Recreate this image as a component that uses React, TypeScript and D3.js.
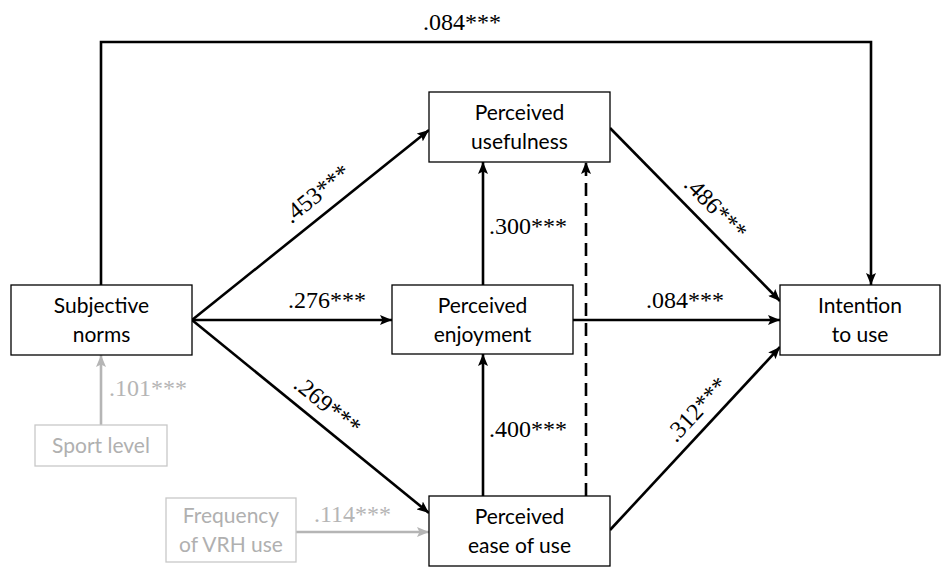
import React, { useEffect, useRef } from 'react';
import * as d3 from 'd3';

// node labels (two lines each)
const nodeIds = ['SN', 'PU', 'PE', 'PEOU', 'IU', 'SL', 'FV'];
const nodeLines = [
  ['Subjective', 'norms'],
  ['Perceived', 'usefulness'],
  ['Perceived', 'enjoyment'],
  ['Perceived', 'ease of use'],
  ['Intention', 'to use'],
  ['Sport level'],
  ['Frequency', 'of VRH use'],
];
const nodeGray = [false, false, false, false, false, true, true];

// path coefficients
const pathFrom = ['SN', 'SN', 'SN', 'SN', 'PE', 'PEOU', 'PEOU', 'PE', 'PU', 'PEOU', 'SL', 'FV'];
const pathTo = ['IU', 'PU', 'PE', 'PEOU', 'PU', 'PE', 'PU', 'IU', 'IU', 'IU', 'SN', 'PEOU'];
const pathCoef = ['.084***', '.453***', '.276***', '.269***', '.300***', '.400***', '', '.084***', '.486***', '.312***', '.101***', '.114***'];
const pathDashed = [false, false, false, false, false, false, true, false, false, false, false, false];

// layout (diagram geometry)
const boxes: Record<string, [number, number, number, number]> = {
  SN: [11, 285, 181, 70],
  PU: [429, 92, 181, 70],
  PE: [392, 285, 181, 69],
  PEOU: [429, 496, 181, 70],
  IU: [780, 285, 160, 70],
  SL: [35, 425, 132, 41],
  FV: [166, 498, 130, 64],
};
const routes: [number, number][][] = [
  [[101, 285], [101, 42], [871, 42], [871, 285]],
  [[192, 320], [429, 130]],
  [[192, 320], [392, 320]],
  [[192, 320], [429, 513]],
  [[483, 285], [483, 162]],
  [[483, 496], [483, 354]],
  [[586, 496], [586, 162]],
  [[573, 320], [780, 320]],
  [[610, 128], [780, 301]],
  [[610, 530], [780, 347]],
  [[101, 425], [101, 355]],
  [[296, 532], [429, 532]],
];
// label placement: [x or t, y or offset, anchor, rotated]
const labelPos: [number, number, string, boolean][] = [
  [462, 30, 'middle', false],
  [0.58, 21, 'middle', true],
  [327, 308, 'middle', false],
  [0.52, 20, 'middle', true],
  [489, 234, 'start', false],
  [489, 437, 'start', false],
  [0, 0, 'middle', false],
  [685, 308, 'middle', false],
  [0.54, 20, 'middle', true],
  [0.59, 19, 'middle', true],
  [109, 396, 'start', false],
  [314, 522, 'start', false],
];

const BLACK = '#000';
const GRAY = '#b5b5b5';

export default function App() {
  const ref = useRef<SVGSVGElement>(null);

  useEffect(() => {
    const svg = d3.select(ref.current);
    svg.selectAll('*').remove();

    const defs = svg.append('defs');
    [['arrow-black', BLACK], ['arrow-gray', GRAY]].forEach(([id, c]) => {
      defs
        .append('marker')
        .attr('id', id)
        .attr('viewBox', '0 0 12 10')
        .attr('refX', 12)
        .attr('refY', 5)
        .attr('markerWidth', 12)
        .attr('markerHeight', 10)
        .attr('markerUnits', 'userSpaceOnUse')
        .attr('orient', 'auto')
        .append('path')
        .attr('d', 'M0,0 L12,5 L0,10 L2.5,5 Z')
        .attr('fill', c);
    });

    const line = d3.line<[number, number]>();

    pathFrom.forEach((from, i) => {
      const gray = from === 'SL' || from === 'FV';
      const col = gray ? GRAY : BLACK;
      svg
        .append('path')
        .attr('d', line(routes[i]))
        .attr('fill', 'none')
        .attr('stroke', col)
        .attr('stroke-width', 2.6)
        .attr('stroke-dasharray', pathDashed[i] ? '13,7' : null)
        .attr('marker-end', `url(#${gray ? 'arrow-gray' : 'arrow-black'})`);

      const text = pathCoef[i];
      if (!text) return;
      const [a, b, anchor, rotated] = labelPos[i];
      const t = svg
        .append('text')
        .attr('font-family', '"Liberation Serif", "Times New Roman", serif')
        .attr('font-size', 24)
        .attr('fill', col)
        .attr('text-anchor', anchor)
        .text(text);
      if (rotated) {
        const [p0, p1] = routes[i];
        const dx = p1[0] - p0[0];
        const dy = p1[1] - p0[1];
        const len = Math.hypot(dx, dy);
        const ux = dx / len;
        const uy = dy / len;
        // normal pointing upward
        let nx = uy;
        let ny = -ux;
        if (ny > 0) {
          nx = -nx;
          ny = -ny;
        }
        const cx = p0[0] + dx * a + nx * b;
        const cy = p0[1] + dy * a + ny * b;
        const ang = (Math.atan2(dy, dx) * 180) / Math.PI;
        t.attr('transform', `translate(${cx},${cy}) rotate(${ang})`).attr('dy', '0.35em');
      } else {
        t.attr('x', a).attr('y', b);
      }
    });

    nodeIds.forEach((id, i) => {
      const [x, y, w, h] = boxes[id];
      const col = nodeGray[i] ? '#c8c8c8' : BLACK;
      const g = svg.append('g');
      g.append('rect')
        .attr('x', x)
        .attr('y', y)
        .attr('width', w)
        .attr('height', h)
        .attr('fill', '#fff')
        .attr('stroke', col)
        .attr('stroke-width', 1.3);
      const lines = nodeLines[i];
      const lh = 29;
      const cy = y + h / 2 - ((lines.length - 1) * lh) / 2;
      lines.forEach((s, j) => {
        g.append('text')
          .attr('x', x + w / 2)
          .attr('y', cy + j * lh)
          .attr('dy', '0.36em')
          .attr('text-anchor', 'middle')
          .attr('font-family', 'Lato, "Open Sans", sans-serif')
          .attr('font-size', 21)
          .attr('fill', nodeGray[i] ? '#b0b0b0' : '#000')
          .text(s);
      });
    });
  }, []);

  return (
    <svg
      ref={ref}
      width={952}
      height={567}
      style={{ position: 'absolute', left: 0, top: 0, background: '#fff' }}
    />
  );
}
